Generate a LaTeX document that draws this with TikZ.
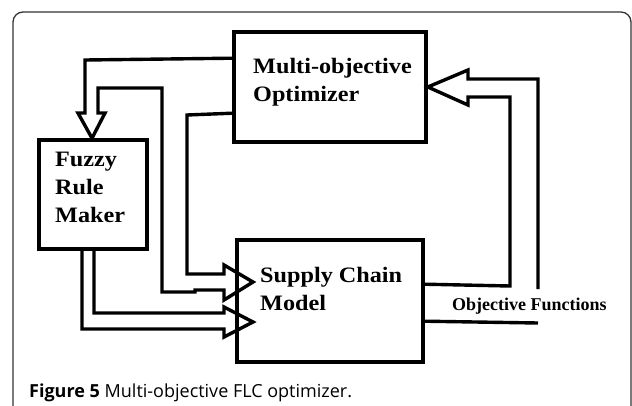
\documentclass[tikz,border=0pt]{standalone}
\usepackage{fontspec}
\setmainfont{Liberation Serif}
\newfontfamily\boxfont[FakeStretch=1.1]{Liberation Serif}
\newfontfamily\capfont{Open Sans}
\usetikzlibrary{calc}
\tikzset{
  blk/.style={draw, line width=3.6pt, minimum width=#1, inner sep=0pt},
  boxtxt/.style={anchor=north west, inner sep=0pt, align=left, font=\boxfont\bfseries\fontsize{22}{28}\selectfont},
  hollow/.style={draw, line width=3.4pt, miter limit=10},
}
\begin{document}
\begin{tikzpicture}[x=1pt,y=-1pt]
\useasboundingbox (0,0) rectangle (632,405);
% frame
\draw[line width=1.3pt, color=black!80, rounded corners=10pt] (13,460) -- (13,12) -- (631,12) -- (631,460);
% boxes
\node[blk=192pt, minimum height=110pt] (opt) at (330,87) {};
\node[blk=108pt, minimum height=109pt] (frm) at (93,194.5) {};
\node[blk=186pt, minimum height=122pt] (scm) at (330,301) {};
% texts
\node[boxtxt] (optt) at (253,58) {Multi-objective\\Optimizer};
\node[boxtxt] (frmt) at (55,152) {Fuzzy\\Rule\\Maker};
\node[boxtxt] (scmt) at (260,267) {Supply Chain\\Model};
\node[anchor=base west, inner sep=0pt, font=\bfseries\fontsize{18}{20}\selectfont] (of) at (452,310) {Objective Functions};
\node[anchor=base west, inner sep=0pt, font=\capfont\fontsize{18}{20}\selectfont] (cap) at (29,397) {\textbf{Figure 5} Multi-objective FLC optimizer.};
% coordinates
\coordinate (a1) at ($(opt.north west)+(0,28)$);
\coordinate (a2) at ($(opt.north west)+(0,83)$);
% optimizer -> fuzzy rule maker, and loop into supply chain model
\draw[hollow] (a1) -- (85,60) -- (85,113) -- (78,113) -- (frm.north -| 92,0) -- (105,113) -- (98,113) -- (98,88) -- (162,88) -- (162,292) -- (195,292) -- (195,290) -- (224,290) -- (224,300) -- (253,282) -- (224,265) -- (224,274) -- (187,274) -- (187,115) -- (a2);
% fuzzy rule maker -> supply chain model
\coordinate (b1) at (frm.south -| 82,0);
\coordinate (b2) at (frm.south -| 94,0);
\draw[hollow] (b1) -- (82,329) -- (224,329) -- (224,337) -- (253,322) -- (224,307) -- (224,313) -- (94,313) -- (b2);
% supply chain model -> optimizer
\coordinate (c1) at ($(scm.north east)+(0,46)$);
\coordinate (c2) at (538,289);
\draw[hollow] (c1) -- (510,286) -- (510,97) -- (468,97) -- (468,105) -- (opt.east |- 0,87) -- (468,70) -- (468,79) -- (538,79) -- (c2);
\coordinate (d1) at ($(scm.north east)+(0,83)$);
\coordinate (d2) at (538,323);
\draw[hollow] (d1) -- (d2);
\end{tikzpicture}
\end{document}
